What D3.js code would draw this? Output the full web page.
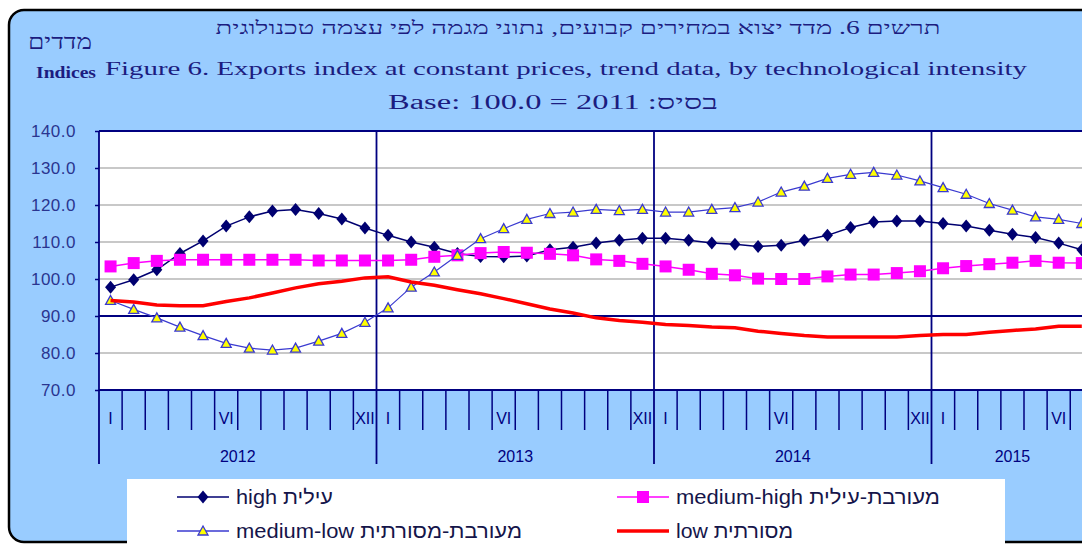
<!DOCTYPE html>
<html lang="he">
  <head>
    <meta charset="utf-8">
    <title>Exports index</title>
    <style media="screen">
      body { margin: 0; background: #fff; }
      svg { display: block; }
    </style>
  </head>
  <body>
    <div id="graph-div"></div>

    <script src="https://cdn.jsdelivr.net/npm/d3@7"></script>
    <script type="text/javascript">

    // monthly trend data, Jan 2012 .. Jul 2015
    var years = [2012, 2013, 2014, 2015];
    var monthNames = ["I", "", "", "", "", "VI", "", "", "", "", "", "XII"];
    var yTicks = [70, 80, 90, 100, 110, 120, 130, 140];

    var high = [97.8, 99.8, 102.5, 106.9, 110.3, 114.3, 116.8, 118.4, 118.8, 117.7, 116.2, 113.8,
                111.8, 110.0, 108.6, 106.9, 106.1, 106.0, 106.2, 107.9, 108.6, 109.7, 110.5, 111.0,
                111.0, 110.5, 109.7, 109.4, 108.8, 109.1, 110.5, 111.8, 113.9, 115.4, 115.7, 115.7,
                115.0, 114.3, 113.2, 112.1, 111.2, 109.7, 107.9];
    var mediumHigh = [103.4, 104.3, 104.9, 105.2, 105.2, 105.2, 105.2, 105.2, 105.2, 105.0, 105.0, 105.0,
                      105.0, 105.2, 106.0, 106.4, 107.0, 107.3, 107.1, 106.8, 106.4, 105.3, 104.9, 104.1,
                      103.4, 102.5, 101.4, 101.0, 100.1, 100.0, 100.0, 100.7, 101.2, 101.2, 101.6, 102.1,
                      102.9, 103.5, 104.0, 104.4, 104.9, 104.4, 104.3];
    var mediumLow = [94.2, 91.8, 89.5, 87.0, 84.7, 82.6, 81.3, 80.8, 81.3, 83.2, 85.3, 88.3,
                     92.2, 97.8, 101.9, 106.4, 110.9, 113.6, 116.1, 117.7, 118.1, 118.8, 118.5, 118.8,
                     118.1, 118.1, 118.8, 119.3, 120.8, 123.5, 125.1, 127.2, 128.3, 128.8, 128.1, 126.5,
                     124.7, 122.9, 120.4, 118.6, 116.8, 116.1, 115.0];
    var low = [94.2, 93.8, 93.0, 92.8, 92.8, 93.9, 94.9, 96.2, 97.6, 98.7, 99.4, 100.3,
               100.6, 99.2, 98.3, 97.1, 96.0, 94.7, 93.3, 91.9, 90.8, 89.5, 88.8, 88.3,
               87.7, 87.4, 87.0, 86.8, 85.9, 85.3, 84.7, 84.3, 84.3, 84.3, 84.3, 84.7,
               85.0, 85.0, 85.6, 86.1, 86.5, 87.2, 87.2];

    var legendLabels = ["high עילית", "medium-high מעורבת-עילית", "medium-low מעורבת-מסורתית", "low מסורתית"];

    var W = 1082, H = 545;
    var navy = "#000080", textBlue = "#1c1c80";
    var plot = {left: 99, top: 131, bottom: 390};
    var nMonths = high.length;   // axis ends after the last month shown

    var svg = d3.select("#graph-div")
      .append("svg")
        .attr("width", W)
        .attr("height", H);

    // blue panel
    svg.append("rect")
      .attr("x", 9).attr("y", 10)
      .attr("width", 1240).attr("height", 532)
      .attr("rx", 15)
      .style("fill", "#99ccff")
      .style("stroke", "#000")
      .style("stroke-width", 2.5);

    // titles
    svg.append("text")
      .attr("x", 578).attr("y", 34)
      .attr("text-anchor", "middle")
      .attr("direction", "rtl")
      .attr("textLength", 725).attr("lengthAdjust", "spacingAndGlyphs")
      .style("font", "18px 'Liberation Serif'")
      .style("fill", textBlue)
      .text("תרשים 6. מדד יצוא במחירים קבועים, נתוני מגמה לפי עצמה טכנולוגית");
    svg.append("text")
      .attr("x", 566).attr("y", 75)
      .attr("text-anchor", "middle")
      .attr("textLength", 922).attr("lengthAdjust", "spacingAndGlyphs")
      .style("font", "19px 'Liberation Serif'")
      .style("fill", textBlue)
      .text("Figure 6. Exports index at constant prices, trend data, by  technological intensity");
    svg.append("text")
      .attr("x", 553).attr("y", 109)
      .attr("text-anchor", "middle")
      .attr("textLength", 330).attr("lengthAdjust", "spacingAndGlyphs")
      .style("font", "20px 'Liberation Serif'")
      .style("fill", textBlue)
      .text("Base: 100.0 = 2011 :בסיס");
    svg.append("text")
      .attr("x", 60).attr("y", 49)
      .attr("text-anchor", "middle")
      .attr("textLength", 64).attr("lengthAdjust", "spacingAndGlyphs")
      .style("font", "21px 'Liberation Serif'")
      .style("fill", textBlue)
      .text("מדדים");
    svg.append("text")
      .attr("x", 66).attr("y", 78)
      .attr("text-anchor", "middle")
      .attr("textLength", 60).attr("lengthAdjust", "spacingAndGlyphs")
      .style("font", "bold 17px 'Liberation Serif'")
      .style("fill", textBlue)
      .text("Indices");

    var x = d3.scaleLinear()
        .domain([0, nMonths])
        .range([plot.left, plot.left + nMonths * 23.125]);
    var y = d3.scaleLinear()
        .domain([70, 140])
        .range([plot.bottom, plot.top]);

    // plot background
    svg.append("rect")
      .attr("x", plot.left).attr("y", plot.top)
      .attr("width", x(nMonths) - plot.left).attr("height", plot.bottom - plot.top)
      .style("fill", "#fff");

    // horizontal grid
    svg.append("g")
      .selectAll("line")
      .data(yTicks.filter(function(d) { return d != 70 && d != 90 && d != 140; }))
      .enter()
      .append("line")
        .attr("x1", plot.left).attr("x2", x(nMonths))
        .attr("y1", function(d) { return y(d); })
        .attr("y2", function(d) { return y(d); })
        .style("stroke", "#c8c8c8")
        .style("stroke-width", 2);

    // y axis
    var yAxis = svg.append("g")
      .attr("transform", "translate(" + plot.left + ",0)")
      .call(d3.axisLeft(y).tickValues(yTicks).tickSize(4).tickFormat(d3.format(".1f")));
    yAxis.select(".domain").remove();
    yAxis.selectAll(".tick line").style("stroke", navy).style("stroke-width", 1.5);
    yAxis.selectAll(".tick text")
      .attr("x", -23)
      .style("font", "17px 'Liberation Sans'")
      .style("letter-spacing", "0.5px")
      .style("fill", "#2a3590");

    // dark lines: top, 90 level, bottom axis
    [140, 90, 70].forEach(function(v) {
      svg.append("line")
        .attr("x1", plot.left).attr("x2", x(nMonths))
        .attr("y1", y(v)).attr("y2", y(v))
        .style("stroke", navy)
        .style("stroke-width", 1.8);
    });

    // month ticks and labels
    var months = d3.range(0, nMonths);
    svg.append("g")
      .selectAll("line")
      .data(months.filter(function(m) { return m % 12 != 0; }))
      .enter()
      .append("line")
        .attr("x1", function(m) { return x(m); })
        .attr("x2", function(m) { return x(m); })
        .attr("y1", plot.bottom).attr("y2", 430)
        .style("stroke", navy)
        .style("stroke-width", 1.5);
    svg.append("g")
      .selectAll("text")
      .data(months.filter(function(m) { return monthNames[m % 12] != ""; }))
      .enter()
      .append("text")
        .attr("x", function(m) { return x(m + 0.5); })
        .attr("y", 424)
        .attr("text-anchor", "middle")
        .style("font", "16px 'Liberation Sans'")
        .style("fill", navy)
        .text(function(m) { return monthNames[m % 12]; });

    // year separators and labels
    svg.append("g")
      .selectAll("line")
      .data(d3.range(0, nMonths + 1, 12))
      .enter()
      .append("line")
        .attr("x1", function(m) { return x(m); })
        .attr("x2", function(m) { return x(m); })
        .attr("y1", plot.top).attr("y2", 464)
        .style("stroke", navy)
        .style("stroke-width", 1.8);
    svg.append("g")
      .selectAll("text")
      .data(years)
      .enter()
      .append("text")
        .attr("x", function(d, i) { return x((i * 12 + Math.min(i * 12 + 12, nMonths)) / 2); })
        .attr("y", 462)
        .attr("text-anchor", "middle")
        .style("font", "16px 'Liberation Sans'")
        .style("fill", navy)
        .text(function(d) { return d; });

    // series
    var series = [
      {values: high, color: "#000070", width: 1.5, marker: "diamond"},
      {values: mediumHigh, color: "#ff00ff", width: 1.5, marker: "square"},
      {values: mediumLow, color: "#3a3ad0", width: 1.2, marker: "triangle"},
      {values: low, color: "#ff0000", width: 3.5, marker: null}
    ];

    var line = d3.line()
      .x(function(d, i) { return x(i + 0.5); })
      .y(function(d) { return y(d); });

    function drawMarker(g, type, color) {
      if (type == "diamond") {
        g.append("path").attr("d", "M0,-6.5L5.5,0L0,6.5L-5.5,0Z").style("fill", color);
      } else if (type == "square") {
        g.append("rect").attr("x", -6).attr("y", -6).attr("width", 12).attr("height", 12)
          .style("fill", "#ff00ff");
      } else if (type == "triangle") {
        g.append("path").attr("d", "M0,-5L5,4L-5,4Z")
          .style("fill", "#ffff00").style("stroke", color).style("stroke-width", 1.3);
      }
    }

    series.forEach(function(s) {
      svg.append("path")
        .datum(s.values)
        .attr("d", line)
        .style("fill", "none")
        .style("stroke", s.color)
        .style("stroke-width", s.width);
      if (s.marker) {
        svg.append("g")
          .selectAll("g")
          .data(s.values)
          .enter()
          .append("g")
            .attr("transform", function(d, i) { return "translate(" + x(i + 0.5) + "," + y(d) + ")"; })
            .each(function() { drawMarker(d3.select(this), s.marker, s.color); });
      }
    });

    // legend
    svg.append("rect")
      .attr("x", 127).attr("y", 479)
      .attr("width", 878).attr("height", 80)
      .style("fill", "#fff");

    var legendPos = [
      {x: 177, y: 497, tl: 97},
      {x: 617, y: 497, tl: 264},
      {x: 177, y: 531, tl: 286},
      {x: 617, y: 531, tl: 117}
    ];
    series.forEach(function(s, i) {
      var p = legendPos[i];
      var g = svg.append("g").attr("transform", "translate(" + p.x + "," + p.y + ")");
      g.append("line")
        .attr("x1", 0).attr("x2", 52)
        .style("stroke", s.color)
        .style("stroke-width", s.marker ? 1.5 : 3.5);
      if (s.marker) {
        var m = g.append("g").attr("transform", "translate(26,0)");
        drawMarker(m, s.marker, s.color);
      }
      g.append("text")
        .attr("x", 59).attr("y", 7)
        .attr("textLength", p.tl).attr("lengthAdjust", "spacingAndGlyphs")
        .style("font", "20px 'Liberation Sans'")
        .style("fill", "#15154a")
        .text(legendLabels[i]);
    });

    </script>
  </body>
</html>
